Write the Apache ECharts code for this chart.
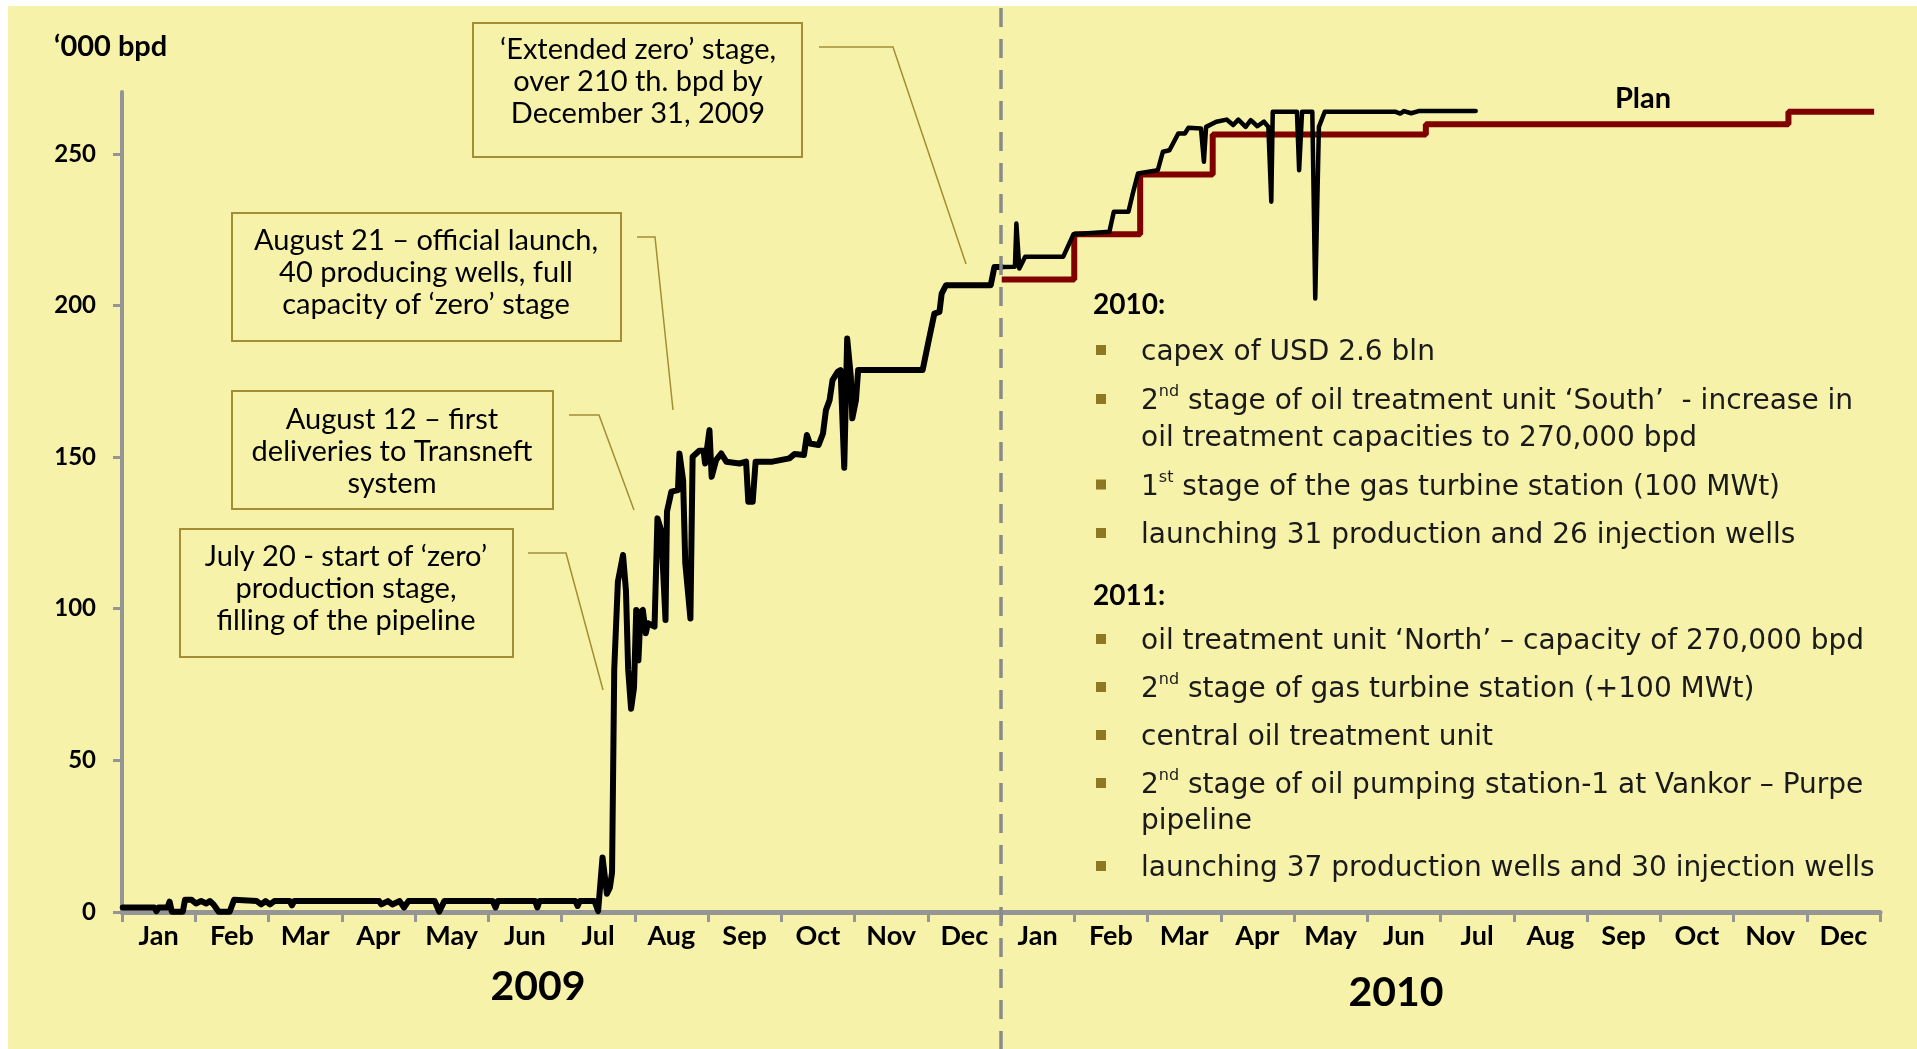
<!DOCTYPE html>
<html>
<head>
<meta charset="utf-8">
<title>Vankor production, 2009-2010</title>
<script src="https://cdn.jsdelivr.net/npm/echarts@6/dist/echarts.min.js"></script>
<style>
html, body { margin: 0; padding: 0; background: #fff; }
#chart { width: 1917px; height: 1049px; }
</style>
</head>
<body>
<div id="chart"></div>
<script>
// --- data ------------------------------------------------------------
// x = months since 1 Jan 2009, y = '000 bpd
const MONTHS = ['Jan', 'Feb', 'Mar', 'Apr', 'May', 'Jun', 'Jul', 'Aug', 'Sep', 'Oct', 'Nov', 'Dec'];
const monthLabels = MONTHS.concat(MONTHS);
const yearLabels = ['2009', '2010'];
const yTicks = [0, 50, 100, 150, 200, 250];

const actual2009 = [
    [0.01, 1.5], [0.44, 1.5], [0.47, 0.3], [0.5, 1.5], [0.62, 1.5], [0.65, 3.4], [0.68, 0.1],
    [0.83, 0.1], [0.86, 4.0], [0.95, 4.0], [1.01, 2.8], [1.08, 3.6], [1.15, 2.8], [1.2, 3.6],
    [1.25, 2.5], [1.32, 0.1], [1.47, 0.1], [1.53, 4.0], [1.84, 3.6], [1.9, 2.5], [1.96, 3.6],
    [2.02, 2.5], [2.08, 3.6], [2.29, 3.6], [2.32, 2.2], [2.35, 3.6], [3.51, 3.6], [3.54, 2.5],
    [3.63, 3.6], [3.69, 2.5], [3.79, 3.6], [3.85, 1.5], [3.91, 3.6], [4.27, 3.6], [4.33, 0.1],
    [4.4, 3.6], [5.06, 3.6], [5.1, 1.5], [5.13, 3.6], [5.64, 3.6], [5.67, 1.5], [5.7, 3.6],
    [6.19, 3.6], [6.22, 2.0], [6.25, 3.6], [6.45, 3.6], [6.5, 0.3], [6.56, 18], [6.62, 6],
    [6.66, 8], [6.69, 13], [6.72, 80], [6.77, 109], [6.84, 117.7], [6.88, 106], [6.91, 80],
    [6.95, 67], [6.99, 74], [7.02, 99.6], [7.05, 83], [7.08, 99], [7.11, 99.6], [7.15, 91.9],
    [7.18, 95.2], [7.27, 94.1], [7.31, 129.8], [7.36, 125.9], [7.42, 96.3], [7.44, 132],
    [7.5, 138.6], [7.59, 139.1], [7.61, 151.2], [7.66, 142.4], [7.69, 115], [7.76, 96.8],
    [7.79, 150.1], [7.88, 152.1], [7.94, 152.1], [7.96, 147.9], [8.02, 158.9], [8.05, 143.5],
    [8.11, 149], [8.18, 151.2], [8.25, 148.5], [8.43, 147.9], [8.52, 148.5], [8.55, 135.3],
    [8.61, 135.3], [8.65, 148.5], [8.88, 148.5], [9.11, 149.6], [9.18, 151], [9.31, 150.7],
    [9.35, 157.3], [9.39, 154.5], [9.51, 154], [9.57, 157.8], [9.61, 165.5], [9.66, 168.8],
    [9.7, 175.4], [9.77, 178.1], [9.81, 178.7], [9.86, 146.5], [9.9, 189.1], [9.95, 176.5],
    [9.97, 162.8], [10.02, 168.8], [10.05, 178.7], [10.93, 178.7], [11.0, 186.9], [11.09, 197.3],
    [11.16, 197.9], [11.19, 203.9], [11.25, 206.7], [11.86, 206.7], [11.91, 212.7], [12.0, 212.7]
];

const actual2010 = [
    [12.0, 212.7], [12.19, 212.8], [12.21, 227], [12.25, 212.2], [12.33, 216.1], [12.85, 216.1],
    [12.99, 223.5], [13.48, 224.3], [13.54, 230.9], [13.74, 230.9], [13.8, 237], [13.87, 243.5],
    [14.14, 244.6], [14.21, 250.7], [14.3, 251.2], [14.42, 256.7], [14.51, 256.7], [14.56, 258.6],
    [14.73, 258.4], [14.77, 247.4], [14.8, 258.9], [14.94, 260.6], [15.08, 261.3], [15.17, 259.5],
    [15.24, 261.3], [15.34, 258.9], [15.41, 261.1], [15.5, 259.1], [15.59, 260.6], [15.65, 258.9],
    [15.69, 234.2], [15.71, 263.9], [16.04, 263.9], [16.07, 244.6], [16.11, 263.9], [16.25, 263.9],
    [16.29, 202.3], [16.34, 258.9], [16.42, 263.9], [17.38, 263.9], [17.45, 263.3], [17.5, 264.1],
    [17.6, 263.4], [17.7, 264.1], [18.48, 264.1]
];

// plan steps (value holds until the next point)
const plan2010 = [
    [12.01, 208.6], [13.0, 223.5], [13.9, 243.2], [14.89, 256.4], [17.8, 259.8],
    [22.75, 263.9], [23.92, 263.9]
];

const callouts = [
    ['‘Extended zero’ stage,', 'over 210 th. bpd by', 'December 31, 2009'],
    ['August 21 – official launch,', '40 producing wells, full', 'capacity of ‘zero’ stage'],
    ['August 12 – first', 'deliveries to Transneft', 'system'],
    ['July 20 - start of ‘zero’', 'production stage,', 'filling of the pipeline']
];

const notes = [
    ['head', '2010:'],
    ['bullet', 'capex of USD 2.6 bln'],
    ['bullet', '2{s|nd} stage of oil treatment unit ‘South’  - increase in'],
    ['cont', 'oil treatment capacities to 270,000 bpd'],
    ['bullet', '1{s|st} stage of the gas turbine station (100 MWt)'],
    ['bullet', 'launching 31 production and 26 injection wells'],
    ['head', '2011:'],
    ['bullet', 'oil treatment unit ‘North’ – capacity of 270,000 bpd'],
    ['bullet', '2{s|nd} stage of gas turbine station (+100 MWt)'],
    ['bullet', 'central oil treatment unit'],
    ['bullet', '2{s|nd} stage of oil pumping station-1 at Vankor – Purpe'],
    ['cont', 'pipeline'],
    ['bullet', 'launching 37 production wells and 30 injection wells']
];

// --- layout / style --------------------------------------------------
const FONT = "Lato, 'Liberation Sans', sans-serif";
const NOTE_FONT = "'DejaVu Sans', 'Noto Sans', sans-serif";
const BG = '#F7F2AA';
const GOLD = '#A48D33';
const AXIS_GREY = '#959595';

// box rect [x, y, w, h], text centre x, middle line y, leader points
const calloutLayout = [
    { box: [473, 23, 329, 134], cx: 638, cy: 82, leader: [[819, 47], [893, 47], [966, 264]] },
    { box: [232, 213, 389, 128], cx: 426, cy: 273, leader: [[637, 237], [655, 237], [673, 410]] },
    { box: [232, 391, 321, 118], cx: 392, cy: 452, leader: [[569, 415], [599, 415], [634, 510]] },
    { box: [180, 529, 333, 128], cx: 346, cy: 589, leader: [[528, 553], [566, 553], [603, 690]] }
];
const noteRowsY = [305, 353, 402, 438.5, 487.5, 536, 596, 642, 690, 738, 786, 822, 869];

let gid = 0;
function el(o) {
    o.id = 'g' + (gid++);
    return o;
}

function textStyle(text, x, y, size, weight, family, align) {
    return {
        text: text, x: x, y: y,
        fontSize: size, fontWeight: weight, fontFamily: family,
        fill: '#000',
        align: align, textAlign: align,
        verticalAlign: 'middle', textVerticalAlign: 'middle'
    };
}

const elements = [];
// page background (white margin top / left)
elements.push(el({ type: 'rect', shape: { x: 8, y: 6, width: 1909, height: 1043 }, style: { fill: BG }, z: -100 }));

callouts.forEach(function(lines, i) {
    const L = calloutLayout[i];
    elements.push(el({
        type: 'polyline', shape: { points: L.leader },
        style: { stroke: GOLD, lineWidth: 1.5, fill: null }, z: 9
    }));
    elements.push(el({
        type: 'rect', shape: { x: L.box[0], y: L.box[1], width: L.box[2], height: L.box[3] },
        style: { fill: BG, stroke: GOLD, lineWidth: 2 }, z: 10
    }));
    const st = textStyle(lines.join('\n'), L.cx, L.cy, 29, 'normal', FONT, 'center');
    st.lineHeight = 32;
    elements.push(el({ type: 'text', style: st, z: 11 }));
});

notes.forEach(function(row, i) {
    const y = noteRowsY[i];
    if (row[0] === 'head') {
        elements.push(el({ type: 'text', style: textStyle(row[1], 1093, y, 28, 'bold', FONT, 'left'), z: 11 }));
        return;
    }
    if (row[0] === 'bullet') {
        elements.push(el({ type: 'rect', shape: { x: 1096, y: y - 8, width: 10, height: 10 }, style: { fill: '#8E7822' }, z: 11 }));
    }
    const st = textStyle(row[1], 1141, y, 28, 'normal', NOTE_FONT, 'left');
    st.fill = '#1a1a1a';
    st.lineHeight = 36;
    st.rich = {
        s: { fontSize: 16, fontFamily: NOTE_FONT, fill: '#1a1a1a', lineHeight: 22, verticalAlign: 'top' }
    };
    elements.push(el({ type: 'text', style: st, z: 11 }));
});

elements.push(el({ type: 'text', style: textStyle('‘000 bpd', 54, 47, 29, 'bold', FONT, 'left'), z: 11 }));
elements.push(el({ type: 'text', style: textStyle('Plan', 1643, 99, 29, 'bold', FONT, 'center'), z: 11 }));
elements.push(el({ type: 'text', style: textStyle(yearLabels[0], 538, 987, 41, 'bold', FONT, 'center'), z: 11 }));
elements.push(el({ type: 'text', style: textStyle(yearLabels[1], 1396, 993, 41, 'bold', FONT, 'center'), z: 11 }));

const option = {
    backgroundColor: '#ffffff',
    animation: false,
    grid: { left: 122, right: 37, top: 92, bottom: 137 },
    xAxis: [
        { type: 'value', min: 0, max: 24, interval: 1, show: false },
        {
            type: 'category',
            data: monthLabels,
            boundaryGap: true,
            position: 'bottom',
            axisLine: { lineStyle: { color: AXIS_GREY, width: 5 } },
            axisTick: { show: true, length: 10, lineStyle: { color: AXIS_GREY, width: 3 } },
            axisLabel: {
                interval: 0, color: '#000', fontFamily: FONT,
                fontWeight: 'bold', fontSize: 27, margin: 11
            },
            splitLine: { show: false }
        }
    ],
    yAxis: {
        type: 'value', min: 0, max: 270.4, interval: 50,
        axisLine: { show: true, lineStyle: { color: AXIS_GREY, width: 4 } },
        axisTick: { show: true, length: 9, customValues: yTicks, lineStyle: { color: AXIS_GREY, width: 3 } },
        axisLabel: {
            customValues: yTicks, color: '#000', fontFamily: FONT,
            fontWeight: 'bold', fontSize: 24, margin: 26
        },
        splitLine: { show: false }
    },
    series: [
        {
            name: 'Plan', type: 'line', xAxisIndex: 0,
            data: plan2010, step: 'end', symbol: 'none',
            lineStyle: { color: '#800000', width: 6 },
            z: 3
        },
        {
            name: 'Actual 2009', type: 'line', xAxisIndex: 0,
            data: actual2009, symbol: 'none',
            lineStyle: { color: '#000', width: 6, join: 'round', cap: 'round' },
            z: 4
        },
        {
            name: 'Actual 2010', type: 'line', xAxisIndex: 0,
            data: actual2010, symbol: 'none',
            lineStyle: { color: '#000', width: 4.5, join: 'round', cap: 'round' },
            z: 4
        }
    ],
    graphic: { elements: elements }
};

const chart = echarts.init(document.getElementById('chart'));
chart.setOption(option);

// dashed year divider at 1 Jan 2010, across the whole page
const divX = chart.convertToPixel({ xAxisIndex: 0 }, 12);
chart.setOption({
    graphic: {
        elements: [el({
            type: 'line',
            shape: { x1: divX, y1: 8, x2: divX, y2: 1049 },
            style: { stroke: '#8A8A8A', lineWidth: 3.5, lineDash: [19, 12] },
            z: 5
        })]
    }
});
</script>
</body>
</html>
